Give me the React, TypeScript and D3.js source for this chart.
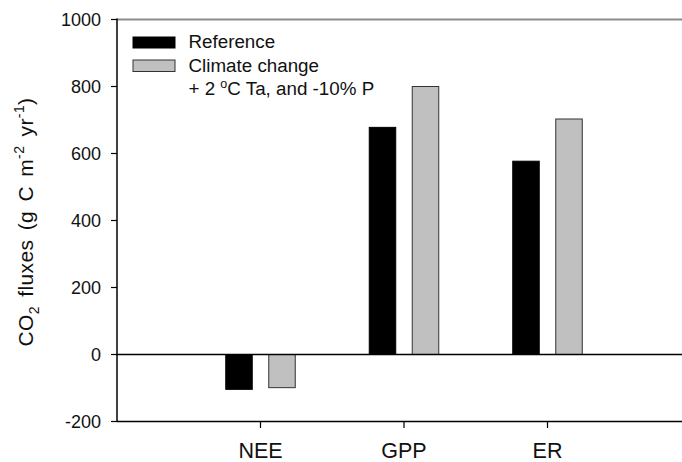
import React from "react";
import * as d3 from "d3";

const categories = ["NEE", "GPP", "ER"];
const series = ["Reference", "Climate change"];
const referenceValues = [-104, 678, 577];
const climateValues = [-99, 800, 703];
const yTicks = [-200, 0, 200, 400, 600, 800, 1000];

const width = 682;
const height = 462;
const font = "'Liberation Sans', Arial, sans-serif";

const App = () => {
  // plot frame
  const left = 117;
  const top = 19.5;
  const bottom = 421.5;

  const y = d3.scaleLinear().domain([-200, 1000]).range([bottom, top]);
  const x = d3.scalePoint<string>().domain(categories).range([260.5, 547.5]);
  const x1 = d3
    .scaleBand<string>()
    .domain(series)
    .range([-34.75, 34.75])
    .paddingInner(0.384);

  const colors = { Reference: "#000000", "Climate change": "#c0c0c0" };
  const strokes = { Reference: "#000000", "Climate change": "#333333" };
  const valuesFor = { Reference: referenceValues, "Climate change": climateValues };

  return (
    <svg
      width={width}
      height={height}
      style={{ position: "absolute", left: 0, top: 0, background: "#fff" }}
      fontFamily={font}
    >
      {/* top frame line */}
      <line x1={left} x2={width} y1={top} y2={top} stroke="#8c8c8c" strokeWidth={2} />

      {/* bars */}
      {series.map((s) =>
        categories.map((c, i) => {
          const v = valuesFor[s][i];
          const bx = (x(c) as number) + (x1(s) as number);
          return (
            <rect
              key={s + c}
              x={bx}
              y={Math.min(y(v), y(0))}
              width={x1.bandwidth()}
              height={Math.abs(y(v) - y(0))}
              fill={colors[s]}
              stroke={strokes[s]}
              strokeWidth={1}
            />
          );
        })
      )}

      {/* zero line */}
      <line x1={left} x2={width} y1={y(0)} y2={y(0)} stroke="#000" strokeWidth={1.5} />

      {/* y axis */}
      <line x1={left} x2={left} y1={top - 1} y2={bottom} stroke="#000" strokeWidth={1.5} />
      {yTicks.map((t) => (
        <g key={t}>
          <line x1={left - 6} x2={left} y1={y(t)} y2={y(t)} stroke="#000" strokeWidth={1.2} />
          <text
            x={left - 16}
            y={y(t)}
            dy="0.36em"
            textAnchor="end"
            fontSize={18}
            fill="#111"
          >
            {t}
          </text>
        </g>
      ))}

      {/* x axis */}
      <line x1={left} x2={width} y1={bottom} y2={bottom} stroke="#000" strokeWidth={1.5} />
      {categories.map((c) => (
        <g key={c}>
          <line
            x1={x(c)}
            x2={x(c)}
            y1={bottom}
            y2={bottom + 6.5}
            stroke="#000"
            strokeWidth={1.2}
          />
          <text x={x(c)} y={458} textAnchor="middle" fontSize={21.5} fill="#111">
            {c}
          </text>
        </g>
      ))}

      {/* y axis title */}
      <text
        transform={`translate(32.5,222) rotate(-90)`}
        textAnchor="middle"
        fontSize={21}
        letterSpacing={0.4}
        wordSpacing={3}
        fill="#111"
      >
        CO
        <tspan fontSize={14} dy={6}>2</tspan>
        <tspan dy={-6}> fluxes (g C m</tspan>
        <tspan fontSize={14} dy={-9}>-2</tspan>
        <tspan dy={9}> yr</tspan>
        <tspan fontSize={14} dy={-9}>-1</tspan>
        <tspan dy={9}>)</tspan>
      </text>

      {/* legend */}
      <g fontSize={18.8} fill="#111">
        <rect x={133} y={37} width={42} height={11} fill="#000" stroke="#000" />
        <text x={188.5} y={48}>
          {series[0]}
        </text>
        <rect x={133} y={60} width={42} height={11.5} fill="#c0c0c0" stroke="#333" />
        <text x={188.5} y={71.5}>
          {series[1]}
        </text>
        <text x={188.5} y={95}>
          + 2 <tspan fontSize={12.5} dy={-7}>o</tspan>
          <tspan dy={7}>C Ta, and -10% P</tspan>
        </text>
      </g>
    </svg>
  );
};

export default App;
